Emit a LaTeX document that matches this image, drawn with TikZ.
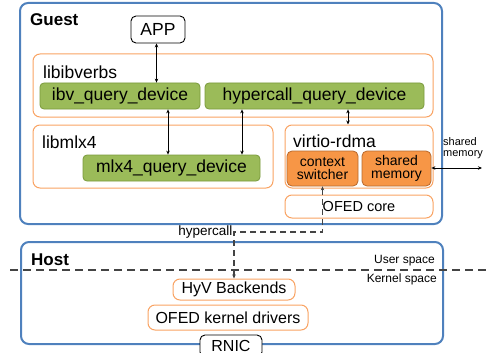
\documentclass[tikz,border=0pt]{standalone}
\usepackage{fontspec}
\setmainfont{Liberation Sans}
\usetikzlibrary{arrows.meta,calc}
\definecolor{gblue}{HTML}{4F81BD}
\definecolor{lorange}{HTML}{F9A363}
\definecolor{gfill}{HTML}{9BBB59}
\definecolor{gline}{HTML}{7A9A3C}
\definecolor{ofill}{HTML}{F79646}
\definecolor{oline}{HTML}{B8692E}
\definecolor{dgray}{HTML}{444444}
\newcommand{\fs}[1]{\fontsize{#1}{#1}\selectfont}
\tikzset{
  outerbox/.style={draw=gblue, line width=2pt, rounded corners=8pt, inner sep=0pt},
  layerbox/.style={draw=lorange, line width=1pt, rounded corners=7pt, inner sep=0pt, fill=white},
  funcbox/.style={draw=gline, fill=gfill, line width=0.8pt, rounded corners=4pt, inner sep=0pt, font=\fs{17.5}},
  hotbox/.style={draw=oline, fill=ofill, line width=0.8pt, rounded corners=5pt, inner sep=0pt, font=\fs{14}, align=center},
  plainbox/.style={draw=black, fill=white, line width=0.9pt, rounded corners=5pt, inner sep=0pt},
  title/.style={anchor=west, inner sep=0pt, font=\fs{17}\bfseries},
  lbl/.style={anchor=west, inner sep=0pt, font=\fs{17.5}},
  dbl/.style={{Stealth[length=4pt,width=3.5pt]}-{Stealth[length=4pt,width=3.5pt]}, line width=0.8pt},
  hcdash/.style={draw=dgray, line width=1.2pt, dash pattern=on 6pt off 4pt},
}
\begin{document}
\begin{tikzpicture}[x=1pt,y=-1pt]
\useasboundingbox (0,0) rectangle (490,353);
% Guest
\node[outerbox, minimum width=422pt, minimum height=221pt] (guest) at (231,113.5) {};
\node[title] (guestlbl) at (30,20) {Guest};
\node[plainbox, minimum width=54pt, minimum height=27pt, font=\fs{17.5}] (app) at (158,29.5) {APP};
% libibverbs
\node[layerbox, minimum width=400pt, minimum height=63pt] (libib) at (233,85.5) {};
\node[lbl] (libiblbl) at (43,72) {libibverbs};
\node[funcbox, minimum width=160pt, minimum height=26pt] (ibv) at (120,96) {ibv\_query\_device};
\node[funcbox, minimum width=219pt, minimum height=26pt] (hcq) at (314.5,96) {hypercall\_query\_device};
% libmlx4
\node[layerbox, minimum width=240pt, minimum height=63pt] (libmlx) at (153,156.5) {};
\node[lbl] (libmlxlbl) at (42,142) {libmlx4};
\node[funcbox, minimum width=177pt, minimum height=26pt] (mlx) at (171.5,168) {mlx4\_query\_device};
% virtio-rdma
\node[layerbox, minimum width=148pt, minimum height=63pt] (virtio) at (359,156.5) {};
\node[lbl] (virtiolbl) at (293,141) {virtio-rdma};
\node[hotbox, minimum width=71pt, minimum height=35pt] (cs) at (322.5,168.5) {context\\[-1pt]switcher};
\node[hotbox, minimum width=69pt, minimum height=35pt] (sm) at (396.5,168.5) {shared\\[-1pt]memory};
\node[layerbox, minimum width=148pt, minimum height=23pt, font=\fs{14.5}] (ofedc) at (359,206.5) {OFED core};
% Host
\node[outerbox, minimum width=422pt, minimum height=102pt] (host) at (232,293) {};
\node[title] (hostlbl) at (31,260) {Host};
\node[layerbox, minimum width=122pt, minimum height=21pt, font=\fs{16}] (hyv) at (234,289.5) {HyV Backends};
\node[layerbox, minimum width=160pt, minimum height=25pt, font=\fs{16}] (okd) at (228,317.5) {OFED kernel drivers};
\node[plainbox, minimum width=62pt, minimum height=22pt] (rnic) at (231,346) {};
\node[inner sep=0pt, font=\fs{16}] (rniclbl) at (231,345.5) {RNIC};
% user/kernel divide
\coordinate (divl) at (10,270);
\coordinate (divr) at (490,270);
\draw[draw=dgray, line width=1.2pt, dash pattern=on 8pt off 5pt] (divl) -- (divr);
\node[anchor=east, inner sep=0pt, font=\fs{12}] (us) at (435,261) {User space};
\node[anchor=east, inner sep=0pt, font=\fs{12}] (ks) at (437,279) {Kernel space};
% arrows
\coordinate (x157) at (156.5,0);
\coordinate (x168) at (168,0);
\coordinate (x242) at (242,0);
\coordinate (x348) at (348,0);
\draw[dbl] (app.south -| x157) -- (ibv.north -| x157);
\draw[dbl] (ibv.south -| x168) -- (mlx.north -| x168);
\draw[dbl] (hcq.south -| x242) -- (mlx.north -| x242);
\draw[dbl] (hcq.south -| x348) -- (virtio.north -| x348);
\coordinate (smend) at (482,168);
\draw[dbl] (sm.east |- smend) -- (smend);
\node[anchor=west, inner sep=0pt, font=\fs{11}, align=left] (smlbl) at (443,148) {shared\\[-0.5pt]memory};
% hypercall
\coordinate (bend) at (234,232);
\draw[hcdash, {Stealth[length=4pt,width=3.5pt]}-{Stealth[length=4pt,width=3.5pt]}] (cs.south) |- (bend) -- (hyv.north);
\node[anchor=east, inner sep=1.5pt, font=\fs{13.5}] (hclbl) at (bend) {hypercall};
\end{tikzpicture}
\end{document}
